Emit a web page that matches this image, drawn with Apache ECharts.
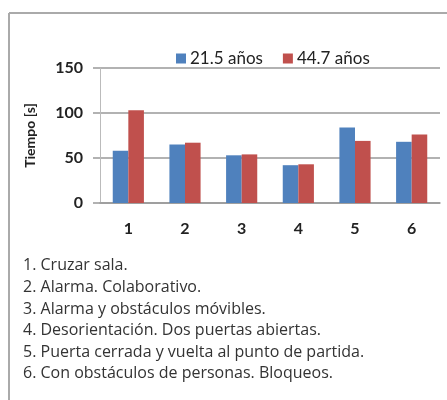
<!DOCTYPE html>
<html><head><meta charset="utf-8">
<script src="https://cdn.jsdelivr.net/npm/echarts@6/dist/echarts.min.js"></script>
<style>html,body{margin:0;padding:0;background:#fff;}#c{width:447px;height:400px;}</style>
</head><body><div id="c"></div>
<script>
const categories = ['1','2','3','4','5','6'];
const seriesNames = ['21.5 años','44.7 años'];
const young = [58, 65, 53, 42, 84, 68];
const older = [103, 67, 54, 43, 69, 76];
const yTicks = [0, 50, 100, 150];
const notes = [
  '1. Cruzar sala.',
  '2. Alarma. Colaborativo.',
  '3. Alarma y obstáculos móvibles.',
  '4. Desorientación. Dos puertas abiertas.',
  '5. Puerta cerrada y vuelta al punto de partida.',
  '6. Con obstáculos de personas. Bloqueos.'
];
const chart = echarts.init(document.getElementById('c'), null, {renderer:'canvas'});
const axisFont = {fontFamily:'Lato', fontWeight:'bold', fontSize:16, color:'#222'};
chart.setOption({
  animation:false,
  backgroundColor:'#fff',
  legend:{
    left:171, top:45, itemWidth:10, itemHeight:10, itemGap:20,
    icon:'rect', data:seriesNames,
    textStyle:{fontFamily:'Lato', fontSize:17, color:'#222', padding:[0,0,0,-1]}
  },
  grid:{left:100, right:7, top:68, bottom:197},
  xAxis:{
    type:'category', data:categories,
    axisLine:{lineStyle:{color:'#999', width:1.5}},
    axisTick:{show:false},
    axisLabel:Object.assign({margin:18}, axisFont)
  },
  yAxis:{
    type:'value', min:yTicks[0], max:yTicks[yTicks.length-1], interval:50,
    name:'Tiempo [s]', nameLocation:'middle', nameGap:63, nameRotate:90,
    nameTextStyle:{fontFamily:'Lato', fontWeight:'bold', fontSize:14, color:'#222'},
    axisLine:{show:true, lineStyle:{color:'#bbb', width:1}},
    axisTick:{show:true, length:7, lineStyle:{color:'#999', width:1.5}},
    splitLine:{lineStyle:{color:'#999', width:1.5}},
    axisLabel:Object.assign({margin:17}, axisFont)
  },
  series:[
    {name:seriesNames[0], type:'bar', data:young, barGap:'0%', barCategoryGap:'45%', itemStyle:{color:'#4F81BD'}},
    {name:seriesNames[1], type:'bar', data:older, barGap:'0%', barCategoryGap:'45%', itemStyle:{color:'#C0504D'}}
  ],
  graphic:[
    {type:'line', shape:{x1:9, y1:13, x2:447, y2:13}, style:{stroke:'#aaa', lineWidth:2}},
    {type:'line', shape:{x1:9, y1:13, x2:9, y2:400}, style:{stroke:'#aaa', lineWidth:2}},
    {type:'text', left:23, top:255, style:{
      text:notes.join('\n'), fontFamily:'Open Sans', fontSize:16, lineHeight:21.6, fill:'#333'
    }}
  ]
});
</script></body></html>
